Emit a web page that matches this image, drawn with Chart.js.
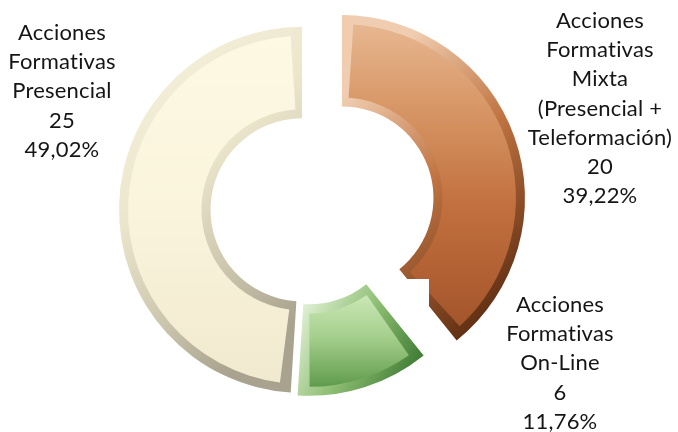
<!DOCTYPE html>
<html><head><meta charset="utf-8">
<script src="https://cdn.jsdelivr.net/npm/chart.js@4.4.1/dist/chart.umd.min.js"></script>
<style>html,body{margin:0;padding:0;background:#fff;}#wrap{width:678px;height:432px;position:relative;}</style>
</head><body><div id="wrap"><canvas id="c" width="678" height="432"></canvas></div>
<script>
// ---- data ----
const categories = ['Acciones Formativas Mixta (Presencial + Teleformación)', 'Acciones Formativas On-Line', 'Acciones Formativas Presencial'];
const labelLines = [['Acciones', 'Formativas', 'Mixta', '(Presencial +', 'Teleformación)'], ['Acciones', 'Formativas', 'On-Line'], ['Acciones', 'Formativas', 'Presencial']];
const values = [20, 6, 25];
const percentLabels = ['39,22%', '11,76%', '49,02%'];

// ---- styles ----
const baseColors = ['#c67a48', '#8fc07a', '#f4eed6'];
const faceStops = [
  [[0, '#ebbf9c'], [0.3, '#d99969'], [0.62, '#c2703f'], [1, '#a3542a']],
  [[0, '#d2ecbf'], [0.45, '#a5cf8c'], [1, '#4f8f3d']],
  [[0, '#fdf9e3'], [0.5, '#faf4dc'], [1, '#f0e9cf']]
];
const edgeStops = [
  [[0, '#f0cdb0'], [0.45, '#c07442'], [1, '#5a2a10']],
  [[0, '#e2f2d6'], [0.5, '#88ba6e'], [1, '#33702a']],
  [[0, '#f4efd8'], [0.35, '#ece6cd'], [0.7, '#cec7af'], [1, '#a8a28e']]
];
const sliceOffsets = [36, 3, 6];
const bevel = 9;
const labelAnchors = [{x: 600, y: 28}, {x: 560, y: 312}, {x: 62, y: 40}];
const lineH = 29.2;

function bbox(arc, dx, dy) {
  let x0 = 1e9, y0 = 1e9, x1 = -1e9, y1 = -1e9;
  for (let k = 0; k <= 30; k++) {
    const a = arc.startAngle + (arc.endAngle - arc.startAngle) * k / 30;
    for (const r of [arc.innerRadius, arc.outerRadius]) {
      const px = arc.x + dx + Math.cos(a) * r, py = arc.y + dy + Math.sin(a) * r;
      x0 = Math.min(x0, px); x1 = Math.max(x1, px); y0 = Math.min(y0, py); y1 = Math.max(y1, py);
    }
  }
  return {x0, y0, x1, y1};
}
function grad(ctx, x0, y0, x1, y1, stops) {
  const g = ctx.createLinearGradient(x0, y0, x1, y1);
  stops.forEach(s => g.addColorStop(s[0], s[1]));
  return g;
}
// draw an arc element with the library's own draw routine, with modified geometry / fill
function paintArc(ctx, arc, props, fill, dx, dy) {
  const saved = {outerRadius: arc.outerRadius, innerRadius: arc.innerRadius, startAngle: arc.startAngle, endAngle: arc.endAngle, options: arc.options};
  Object.assign(arc, props);
  arc.options = Object.assign({}, saved.options, {backgroundColor: fill, borderWidth: 0, offset: 0});
  ctx.save();
  ctx.translate(dx, dy);
  arc.draw(ctx);
  ctx.restore();
  Object.assign(arc, saved);
}

const bevelPlugin = {
  id: 'bevel',
  beforeDatasetsDraw(chart) {
    const ctx = chart.ctx;
    const meta = chart.getDatasetMeta(0);
    meta.data.forEach((arc, i) => {
      const off = arc.options.offset || 0;
      const half = (arc.startAngle + arc.endAngle) / 2;
      const dx = Math.cos(half) * off, dy = Math.sin(half) * off;
      const b = bbox(arc, dx, dy);
      const h = b.y1 - b.y0;
      paintArc(ctx, arc, {}, grad(ctx, b.x0, b.y0 + h * 0.2, b.x1, b.y1 - h * 0.2, edgeStops[i]), dx, dy);
      const rm = (arc.innerRadius + arc.outerRadius) / 2;
      const d = bevel / rm;
      paintArc(ctx, arc, {
        outerRadius: arc.outerRadius - bevel,
        innerRadius: arc.innerRadius + bevel,
        startAngle: arc.startAngle + d,
        endAngle: arc.endAngle - d
      }, grad(ctx, 0, b.y0, 0, b.y1, faceStops[i]), dx, dy);
      if (i === 0) {
        // label background box overlapping the end of the slice
        ctx.save();
        ctx.fillStyle = '#ffffff';
        ctx.fillRect(385, 279, 44, 40);
        ctx.restore();
      }
    });
    return false;
  }
};

const labelPlugin = {
  id: 'sliceLabels',
  afterDraw(chart) {
    const ctx = chart.ctx;
    ctx.save();
    ctx.font = '22px Lato';
    ctx.letterSpacing = '0.2px';
    ctx.fillStyle = '#151515';
    ctx.textAlign = 'center';
    ctx.textBaseline = 'alphabetic';
    categories.forEach((c, i) => {
      const lines = labelLines[i].concat([String(values[i]), percentLabels[i]]);
      const a = labelAnchors[i];
      lines.forEach((t, k) => {
        const w = ctx.measureText(t).width;
        const x = Math.min(a.x, 676 - w / 2);
        ctx.fillText(t, x, a.y + k * lineH);
      });
    });
    ctx.restore();
  }
};

new Chart(document.getElementById('c'), {
  type: 'doughnut',
  data: {
    labels: categories,
    datasets: [{data: values, backgroundColor: baseColors, borderWidth: 0, offset: sliceOffsets}]
  },
  options: {
    responsive: false,
    animation: false,
    radius: 183,
    cutout: '50%',
    layout: {padding: {left: 0, right: 62, top: 0, bottom: 12}},
    plugins: {legend: {display: false}, tooltip: {enabled: false}}
  },
  plugins: [bevelPlugin, labelPlugin]
});
</script>
</body></html>
